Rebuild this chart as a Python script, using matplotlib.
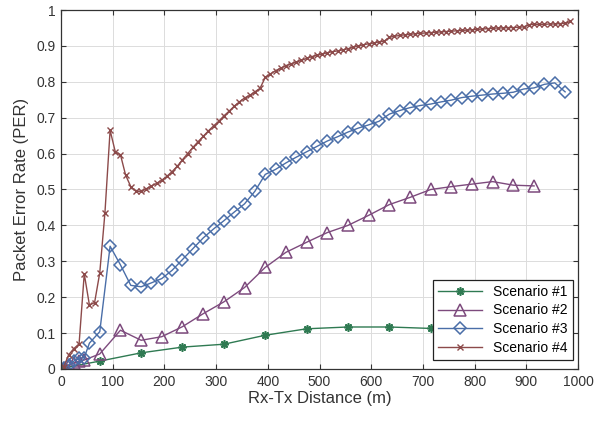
import matplotlib

matplotlib.use("Agg")
import matplotlib.pyplot as plt

plt.rcParams["font.family"] = ["Liberation Sans", "DejaVu Sans"]

# Scenario #1 (green, asterisk)
x1 = [5, 75, 155, 235, 315, 395, 475, 555, 635, 715]
y1 = [0.003, 0.022, 0.045, 0.061, 0.069, 0.094, 0.112, 0.117, 0.117, 0.113]

# Scenario #2 (purple, triangle)
x2 = [5, 15, 25, 35, 45, 75, 115, 155, 195, 235, 275, 315, 355, 395, 435,
      475, 515, 555, 595, 635, 675, 715, 755, 795, 835, 875, 915]
y2 = [0.003, 0.010, 0.017, 0.022, 0.025, 0.042, 0.108, 0.080, 0.090, 0.118,
      0.154, 0.187, 0.227, 0.283, 0.325, 0.353, 0.380, 0.400, 0.428, 0.458,
      0.478, 0.500, 0.508, 0.515, 0.522, 0.512, 0.510]

# Scenario #3 (blue, diamond)
x3 = [5, 15, 25, 35, 45, 55, 75, 95, 115, 135, 155, 175, 195, 215, 235, 255,
      275, 295, 315, 335, 355, 375, 395, 415, 435, 455, 475, 495, 515, 535,
      555, 575, 595, 615, 635, 655, 675, 695, 715, 735, 755, 775, 795, 815,
      835, 855, 875, 895, 915, 935, 955, 975]
y3 = [0.003, 0.012, 0.022, 0.030, 0.032, 0.072, 0.104, 0.342, 0.290, 0.233,
      0.229, 0.240, 0.252, 0.275, 0.305, 0.335, 0.365, 0.390, 0.413, 0.437,
      0.460, 0.495, 0.542, 0.556, 0.574, 0.590, 0.605, 0.620, 0.635, 0.647,
      0.660, 0.671, 0.680, 0.690, 0.710, 0.720, 0.728, 0.734, 0.738, 0.744,
      0.749, 0.756, 0.760, 0.763, 0.766, 0.768, 0.771, 0.780, 0.783, 0.793,
      0.797, 0.772]

# Scenario #4 (brown, x), one point every 10 m
x4 = list(range(5, 986, 10))
y4 = [0.005, 0.040, 0.057, 0.070, 0.265, 0.178, 0.185, 0.268, 0.435, 0.665,
      0.605, 0.597, 0.540, 0.508, 0.495, 0.495, 0.502, 0.510, 0.517, 0.526,
      0.537, 0.550, 0.565, 0.583, 0.600, 0.617, 0.633, 0.648, 0.663, 0.677,
      0.690, 0.705, 0.718, 0.732, 0.744, 0.755, 0.762, 0.772, 0.782, 0.812,
      0.822, 0.831, 0.838, 0.845, 0.850, 0.855, 0.860, 0.865, 0.870, 0.874,
      0.877, 0.881, 0.884, 0.886, 0.889, 0.892, 0.896, 0.900, 0.903, 0.906,
      0.908, 0.911, 0.913, 0.924, 0.927, 0.929, 0.931, 0.932, 0.934, 0.935,
      0.936, 0.937, 0.938, 0.939, 0.940, 0.941, 0.942, 0.943, 0.944, 0.945,
      0.946, 0.947, 0.948, 0.949, 0.950, 0.950, 0.951, 0.951, 0.952, 0.953,
      0.959, 0.960, 0.960, 0.960, 0.961, 0.961, 0.962, 0.963, 0.968]

labels = ["Scenario #1", "Scenario #2", "Scenario #3", "Scenario #4"]
x_ticks = list(range(0, 1001, 100))
y_ticks = [0, 0.1, 0.2, 0.3, 0.4, 0.5, 0.6, 0.7, 0.8, 0.9, 1]
y_tick_labels = ["0", "0.1", "0.2", "0.3", "0.4", "0.5", "0.6", "0.7", "0.8", "0.9", "1"]

TEXT = "#333333"

fig = plt.figure(figsize=(5.95, 4.22), dpi=100)
ax = fig.add_axes([0.1025, 0.1256, 0.869, 0.8507])

ax.plot(x1, y1, color="#2f7a52", lw=1, marker=(8, 2, 0), ms=6, mew=1.2,
        label=labels[0])
ax.plot(x2, y2, color="#7d4a7d", lw=1, marker="^", ms=8.5, mew=1.1,
        mfc="none", label=labels[1])
ax.plot(x3, y3, color="#4a6ea8", lw=1, marker="D", ms=6, mew=1.1,
        mfc="none", label=labels[2])
ax.plot(x4, y4, color="#8c4a4a", lw=1, marker="x", ms=4.5, mew=1,
        label=labels[3])

ax.set_xlim(0, 1000)
ax.set_ylim(0, 1)
ax.set_xticks(x_ticks)
ax.set_yticks(y_ticks)
ax.set_yticklabels(y_tick_labels)

ax.grid(True, color="#dcdcdc", lw=0.7)
ax.set_axisbelow(True)
ax.tick_params(direction="in", top=True, right=True, length=3.5, width=0.8,
               labelsize=10, labelcolor=TEXT, color="#333333", pad=4)
for spine in ax.spines.values():
    spine.set_color("#333333")
    spine.set_linewidth(0.9)

ax.set_xlabel("Rx-Tx Distance (m)", fontsize=12, color=TEXT, labelpad=2)
ax.set_ylabel("Packet Error Rate (PER)", fontsize=12, color=TEXT, labelpad=5)

leg = ax.legend(loc="lower right", bbox_to_anchor=(0.99, 0.025),
                borderaxespad=0, numpoints=1, handlelength=3.2,
                fontsize=10, labelspacing=0.35, borderpad=0.35,
                fancybox=False, framealpha=1, edgecolor="#222222")
leg.get_frame().set_linewidth(0.9)

fig.savefig("out.png", dpi=100)
